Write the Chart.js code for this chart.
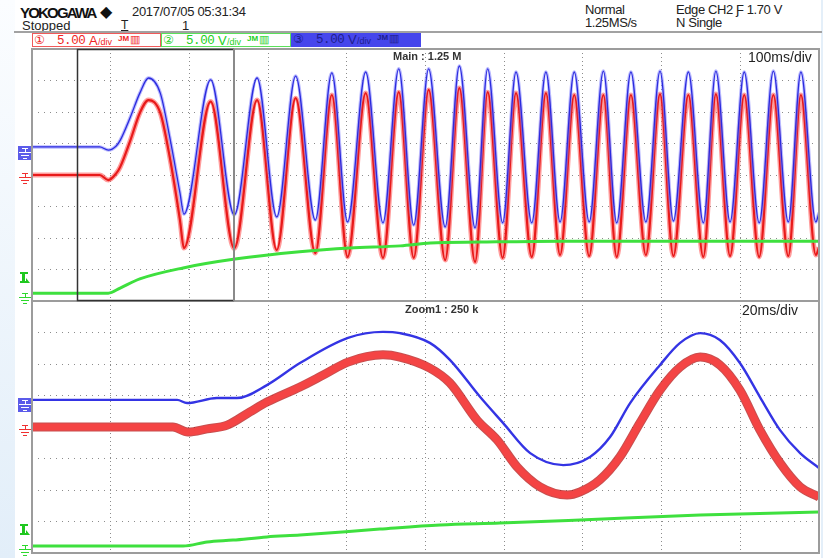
<!DOCTYPE html>
<html>
<head>
<meta charset="utf-8">
<script src="https://cdn.jsdelivr.net/npm/chart.js@4.4.1/dist/chart.umd.min.js"></script>
<style>
body { margin:0; width:823px; height:558px; position:relative; overflow:hidden; background:#fff;
       font-family:'Liberation Sans', Arial, sans-serif; color:#222; }
.t { position:absolute; white-space:nowrap; line-height:1; }
#edgeL { position:absolute; left:0; top:0; width:15px; height:558px; background:linear-gradient(#fbfdff, #e2eef9); }
#edgeR { position:absolute; left:821px; top:0; width:2px; height:558px; background:#e4eff9; }
#sep { position:absolute; left:14px; top:31px; width:808px; height:2px; background:#a2a2a2; }
.ch { position:absolute; top:33px; height:14px; box-sizing:border-box; }
.ch span { position:absolute; white-space:nowrap; line-height:1; }
.v { font-family:'Liberation Mono', monospace; font-size:12.5px; top:1px; letter-spacing:-0.4px; }
canvas { position:absolute; }
</style>
</head>
<body>
<div id="edgeL"></div>
<div id="edgeR"></div>

<div class="t" style="left:20px;top:5px;font-size:15px;font-weight:bold;letter-spacing:-1.8px;color:#111">YOKOGAWA</div>
<div class="t" style="left:100px;top:4px;font-size:16px;color:#111">&#9670;</div>
<div class="t" style="left:132px;top:5px;font-size:13px;letter-spacing:-0.3px">2017/07/05 05:31:34</div>
<div class="t" style="left:22px;top:19px;font-size:13px">Stopped</div>
<div class="t" style="left:121px;top:19px;font-size:12px;text-decoration:underline">T</div>
<div class="t" style="left:182px;top:19px;font-size:13px">1</div>
<div class="t" style="left:585px;top:3px;font-size:13px;letter-spacing:-0.4px">Normal</div>
<div class="t" style="left:585px;top:16px;font-size:13px;letter-spacing:-0.4px">1.25MS/s</div>
<div class="t" style="left:676px;top:3px;font-size:13px;letter-spacing:-0.4px">Edge CH2 &#401; 1.70 V</div>
<div class="t" style="left:676px;top:16px;font-size:13px;letter-spacing:-0.4px">N Single</div>
<div id="sep"></div>

<div class="ch" style="left:32px;width:129px;border:1px solid #f05a5a;color:#f02424">
  <span style="left:1px;top:0;font-size:12px;font-family:'DejaVu Sans'">&#9312;</span>
  <span class="v" style="left:24px">5.00</span>
  <span style="left:56px;top:0;font-size:13px">A</span>
  <span style="left:65px;top:4px;font-size:9px">/div</span>
  <span style="left:85px;top:1px;font-size:8px;font-weight:bold">JM</span>
  <span style="left:97px;top:0;font-size:11px">&#9637;</span>
</div>
<div class="ch" style="left:161px;width:130px;border:1px solid #5ae05a;color:#22d022">
  <span style="left:1px;top:0;font-size:12px;font-family:'DejaVu Sans'">&#9313;</span>
  <span class="v" style="left:24px">5.00</span>
  <span style="left:56px;top:0;font-size:13px">V</span>
  <span style="left:65px;top:4px;font-size:9px">/div</span>
  <span style="left:85px;top:1px;font-size:8px;font-weight:bold">JM</span>
  <span style="left:97px;top:0;font-size:11px">&#9637;</span>
</div>
<div class="ch" style="left:291px;width:130px;background:#4646ec;color:#1e1e8c">
  <span style="left:2px;top:0;font-size:12px;font-family:'DejaVu Sans'">&#9314;</span>
  <span class="v" style="left:25px">5.00</span>
  <span style="left:57px;top:0;font-size:13px">V</span>
  <span style="left:66px;top:4px;font-size:9px">/div</span>
  <span style="left:86px;top:1px;font-size:8px;font-weight:bold">JM</span>
  <span style="left:98px;top:0;font-size:11px">&#9637;</span>
</div>

<canvas id="zoomChart" width="810" height="261" style="left:14px;top:297px"></canvas>
<canvas id="mainChart" width="810" height="260" style="left:14px;top:45px"></canvas>

<div class="t" style="left:393px;top:51px;font-size:11px;font-weight:bold;color:#333">Main : 1.25 M</div>
<div class="t" style="left:748px;top:50px;font-size:14px;color:#222">100ms/div</div>
<div class="t" style="left:405px;top:304px;font-size:11px;font-weight:bold;color:#333">Zoom1 : 250 k</div>
<div class="t" style="left:742px;top:303px;font-size:14px;color:#222">20ms/div</div>

<script>
// Main window: 100 ms/div, x in ms, y in divisions (8 div, centre = 0)
const mainTime = [0, 86, 97, 107, 112, 125, 137, 148, 163, 175, 188, 193,
  227, 257, 286, 311, 335, 360, 381, 401, 424, 446, 466, 485, 504, 525, 543, 563,
  579, 598, 615, 635, 653, 671, 689, 708, 726, 743, 761, 780, 798, 815, 834, 853,
  869, 887, 905, 924, 942, 961, 977, 996, 1000];
// CH3 voltage (blue)
const mainCh3 = [0.89, 0.89, 0.79, 0.92, 1.10, 1.84, 2.60, 3.08, 2.60, 1.20, -0.57, -1.24,
  3.02, -1.27, 3.08, -1.33, 3.14, -1.43, 3.24, -1.49, 3.27, -1.52, 3.37, -1.59, 3.37, -1.65, 3.46, -1.68,
  3.37, -1.52, 3.27, -1.52, 3.27, -1.49, 3.27, -1.49, 3.30, -1.52, 3.27, -1.49, 3.30, -1.46, 3.27, -1.52,
  3.30, -1.49, 3.27, -1.52, 3.30, -1.49, 3.27, -1.49, -1.20];
// CH1 current (red)
const mainCh1 = [0, 0, -0.16, 0.05, 0.25, 1.10, 1.97, 2.38, 1.97, 0.57, -1.43, -2.32,
  2.33, -2.33, 2.38, -2.38, 2.44, -2.48, 2.54, -2.60, 2.60, -2.63, 2.63, -2.63, 2.70, -2.70, 2.76, -2.76,
  2.63, -2.63, 2.60, -2.60, 2.60, -2.54, 2.54, -2.57, 2.54, -2.60, 2.54, -2.54, 2.57, -2.57, 2.54, -2.60,
  2.57, -2.57, 2.54, -2.60, 2.54, -2.57, 2.54, -2.54, -2.30];
// CH2 (green)
const mainCh2Time = [0, 97, 112, 137, 192, 258, 340, 404, 468, 506, 569, 671, 1000];
const mainCh2 = [-3.75, -3.75, -3.59, -3.30, -2.95, -2.67, -2.44, -2.32, -2.25, -2.16, -2.13, -2.10, -2.10];

// Zoom1 window: 20 ms/div
const zoomCh3Time = [0, 36.9, 39.4, 47.0, 52.1, 59.7, 68.1, 80.3, 89.2, 93.5, 101.1, 106.2, 113.9, 119.7,
  126.6, 135.0, 141.8, 146.9, 152.0, 159.6, 164.7, 169.8, 174.8, 179.9, 185.0, 190.1, 195.2, 200];
const zoomCh3 = [0.86, 0.86, 0.76, 0.92, 0.92, 1.33, 2.03, 2.83, 3.02, 2.98, 2.67, 2.13, 0.95, 0.13,
  -0.83, -1.21, -0.95, -0.32, 0.76, 1.97, 2.67, 2.98, 2.76, 2.03, 0.95, -0.10, -0.83, -1.30];
const zoomCh1Time = [0, 35.8, 39.6, 44.5, 49.6, 55.4, 59.7, 68.1, 74.0, 80.3, 89.2, 93.5, 101.1, 106.2,
  113.1, 118.2, 123.3, 129.1, 136.0, 139.3, 144.3, 149.4, 154.5, 159.6, 164.7, 169.8, 174.8, 179.9,
  185.0, 190.1, 195.2, 200];
const zoomCh1 = [0, 0, -0.16, -0.06, 0.06, 0.48, 0.79, 1.27, 1.65, 2.06, 2.29, 2.22, 1.87, 1.40,
  0.22, -0.41, -1.27, -1.90, -2.16, -2.06, -1.68, -0.95, 0.13, 1.17, 1.90, 2.22, 1.97, 1.17,
  -0.10, -1.14, -1.90, -2.22];
const zoomCh2Time = [0, 38.4, 44.5, 51.1, 59.7, 68.1, 88.4, 103.7, 118.9, 139.3, 169.8, 200];
const zoomCh2 = [-3.78, -3.78, -3.65, -3.59, -3.49, -3.43, -3.24, -3.11, -3.05, -2.95, -2.79, -2.70];

const zoomWindow = [57, 257];          // ms of the main window shown in Zoom1
const groundLevel = [0, -3.76, 0.88];  // CH1, CH2, CH3 in divisions
const trigLevel = 1.70 / 5.00;         // CH2 trigger, divisions above ground

const pts = (xs, ys) => xs.map((x, i) => ({ x: x, y: ys[i] }));

function trace(data, color, width, smooth) {
  return {
    data: data,
    borderColor: color,
    borderWidth: width,
    pointRadius: 0,
    fill: false,
    tension: smooth ? 0.4 : 0,
    cubicInterpolationMode: smooth ? 'monotone' : 'default'
  };
}

function groundMark(ctx, x, y, color) {
  ctx.strokeStyle = color;
  ctx.lineWidth = 1;
  ctx.beginPath();
  ctx.moveTo(x - 3, y + 0.5); ctx.lineTo(x + 3, y + 0.5);
  ctx.moveTo(x + 0.5, y); ctx.lineTo(x + 0.5, y + 4);
  ctx.moveTo(x - 6, y + 4.5); ctx.lineTo(x + 6, y + 4.5);
  ctx.moveTo(x - 4, y + 7.5); ctx.lineTo(x + 4, y + 7.5);
  ctx.moveTo(x - 2, y + 10.5); ctx.lineTo(x + 2, y + 10.5);
  ctx.stroke();
}

const scopeDecor = {
  id: 'scopeDecor',
  afterDraw(chart, args, opts) {
    const ctx = chart.ctx;
    const a = chart.chartArea;
    const xs = chart.scales.x, ys = chart.scales.y;
    ctx.save();
    ctx.strokeStyle = '#9c9c9c';
    ctx.lineWidth = 2;
    ctx.strokeRect(a.left, a.top, a.right - a.left, a.bottom - a.top);

    if (opts.zoomWindow) {
      const x0 = Math.round(xs.getPixelForValue(opts.zoomWindow[0])) + 0.5;
      const x1 = Math.round(xs.getPixelForValue(opts.zoomWindow[1]));
      ctx.strokeStyle = '#333';
      ctx.lineWidth = 1.5;
      ctx.beginPath();
      ctx.moveTo(x1, a.top + 0.5); ctx.lineTo(x0, a.top + 0.5);
      ctx.lineTo(x0, a.bottom - 0.5); ctx.lineTo(x1, a.bottom - 0.5);
      ctx.stroke();
      ctx.strokeStyle = '#8a8a8a';
      ctx.lineWidth = 2;
      ctx.beginPath(); ctx.moveTo(x1, a.top); ctx.lineTo(x1, a.bottom); ctx.stroke();
    }

    const mx = a.left - 7;
    // CH3 marker (filled box)
    const y3 = Math.round(ys.getPixelForValue(groundLevel[2]));
    ctx.fillStyle = '#5b5bea';
    ctx.fillRect(a.left - 14, y3 - 1, 13, 14);
    groundMark(ctx, mx, y3 + 1, '#fff');
    // CH1 ground
    const y1 = Math.round(ys.getPixelForValue(groundLevel[0]));
    groundMark(ctx, mx, y1 - 2, '#f03030');
    // CH2 ground and trigger mark
    const y2 = Math.round(ys.getPixelForValue(groundLevel[1]));
    groundMark(ctx, mx, y2, '#2ed82e');
    const yt = Math.round(ys.getPixelForValue(groundLevel[1] + trigLevel));
    ctx.fillStyle = '#1fc81f';
    ctx.fillRect(mx - 5, yt - 11, 8, 2);
    ctx.fillRect(mx - 3, yt - 11, 3, 11);
    ctx.fillRect(mx - 5, yt - 2, 8, 2);
    ctx.beginPath();
    ctx.moveTo(mx + 1, yt); ctx.lineTo(mx + 5, yt); ctx.lineTo(mx + 1, yt - 5); ctx.closePath();
    ctx.fill();
    ctx.restore();
  }
};

function scopeOptions(xMax, zoom, pad) {
  return {
    responsive: false,
    animation: false,
    events: [],
    layout: { padding: pad },
    plugins: {
      legend: { display: false },
      tooltip: { enabled: false },
      scopeDecor: { zoomWindow: zoom }
    },
    scales: {
      x: {
        type: 'linear', min: 0, max: xMax,
        ticks: { display: false, stepSize: xMax / 10 },
        grid: { color: '#8c8c8c', drawTicks: false, lineWidth: 1 },
        border: { display: false, dash: [1, 3] }
      },
      y: {
        min: -4, max: 4,
        ticks: { display: false, stepSize: 1 },
        grid: { color: '#8c8c8c', drawTicks: false, lineWidth: 1 },
        border: { display: false, dash: [1, 5] }
      }
    }
  };
}

new Chart(document.getElementById('mainChart').getContext('2d'), {
  type: 'line',
  data: {
    datasets: [
      trace(pts(mainCh2Time, mainCh2), '#3ee03e', 3, true),
      trace(pts(mainTime, mainCh3), '#2b2bde', 1.3, true),
      trace(pts(mainTime, mainCh3), 'rgba(130,130,255,0.55)', 3.5, true),
      trace(pts(mainTime, mainCh1), '#e81a1a', 2.2, true),
      trace(pts(mainTime, mainCh1), 'rgba(255,90,90,0.6)', 5, true)
    ]
  },
  options: scopeOptions(1000, zoomWindow, { left: 18, top: 4, right: 5, bottom: 4 }),
  plugins: [scopeDecor]
});

new Chart(document.getElementById('zoomChart').getContext('2d'), {
  type: 'line',
  data: {
    datasets: [
      trace(pts(zoomCh2Time, zoomCh2), '#3ee03e', 3, true),
      trace(pts(zoomCh3Time, zoomCh3), '#3434e4', 2.4, true),
      trace(pts(zoomCh1Time, zoomCh1), '#f44444', 7, true),
      trace(pts(zoomCh1Time, zoomCh1), 'rgba(180,20,20,0.75)', 9, true)
    ]
  },
  options: scopeOptions(200, null, { left: 18, top: 4, right: 5, bottom: 5 }),
  plugins: [scopeDecor]
});
</script>
</body>
</html>
